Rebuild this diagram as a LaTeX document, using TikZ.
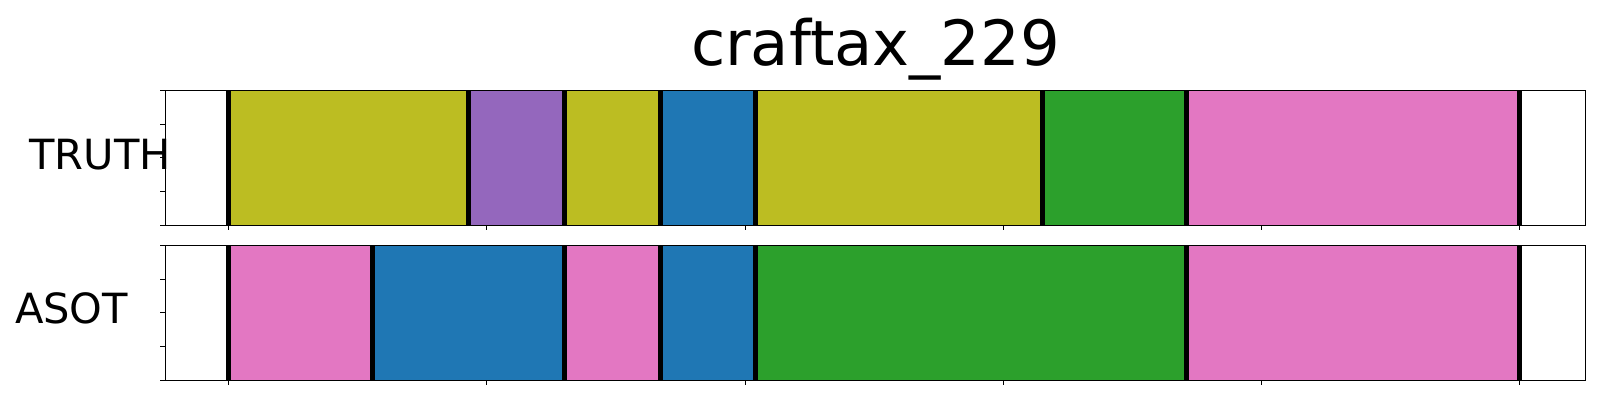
\documentclass[tikz,border=0pt]{standalone}
\usepackage{fontspec}
\setmainfont{DejaVu Sans}
\usepackage{tikz}
\usetikzlibrary{calc,positioning}
\definecolor{tabolive}{HTML}{BCBD22}
\definecolor{tabpurple}{HTML}{9467BD}
\definecolor{tabblue}{HTML}{1F77B4}
\definecolor{tabgreen}{HTML}{2CA02C}
\definecolor{tabpink}{HTML}{E377C2}

\begin{document}
\begin{tikzpicture}[
    x=0.5pt, y=-0.5pt,
    seg/.style={draw=none},
    cut/.style={line width=2.5pt, draw=black},
    spine/.style={line width=0.6pt, draw=black},
    tick/.style={line width=0.5pt, draw=black},
    rowlabel/.style={font=\fontsize{20.8}{24}\selectfont, inner sep=0pt, anchor=base west},
    title/.style={font=\fontsize{31.2}{36}\selectfont, inner sep=0pt, anchor=base west}
]
\useasboundingbox (0,0) rectangle (1600,400);

\node[title] (Title) at (690.6,65.3) {craftax\_229};

% TRUTH row
\foreach \a/\b/\c in {228.7/468/tabolive, 468/564/tabpurple, 564/660/tabolive,
    660/755/tabblue, 755/1042/tabolive, 1042/1186/tabgreen, 1186/1519.7/tabpink}
  \fill[\c] (\a,90.3) rectangle (\b,225.3);
\foreach \x in {228.7,468,564,660,755,1042,1186,1519.7}
  \draw[cut] (\x,90.3) -- (\x,225.3);
\draw[spine] (165.3,90.3) rectangle (1585.3,225.3);
\node[rowlabel] (Truth) at (29,170) {TRUTH};

% ASOT row
\foreach \a/\b/\c in {228.7/372.7/tabpink, 372.7/564/tabblue, 564/660/tabpink,
    660/755/tabblue, 755/1186/tabgreen, 1186/1519.7/tabpink}
  \fill[\c] (\a,245.3) rectangle (\b,380.3);
\foreach \x in {228.7,372.7,564,660,755,1186,1519.7}
  \draw[cut] (\x,245.3) -- (\x,380.3);
\draw[spine] (165.3,245.3) rectangle (1585.3,380.3);
\node[rowlabel] (Asot) at (14.7,323.3) {ASOT};

% ticks
\foreach \k in {0,...,5} {
  \draw[tick] (228.7+\k*258.2,225.3) -- ++(0,5);
  \draw[tick] (228.7+\k*258.2,380.3) -- ++(0,5);
}
\foreach \k in {0,...,4} {
  \draw[tick] (165.3,90.3+\k*33.75) -- ++(-5,0);
  \draw[tick] (165.3,245.3+\k*33.75) -- ++(-5,0);
}
\end{tikzpicture}
\end{document}
